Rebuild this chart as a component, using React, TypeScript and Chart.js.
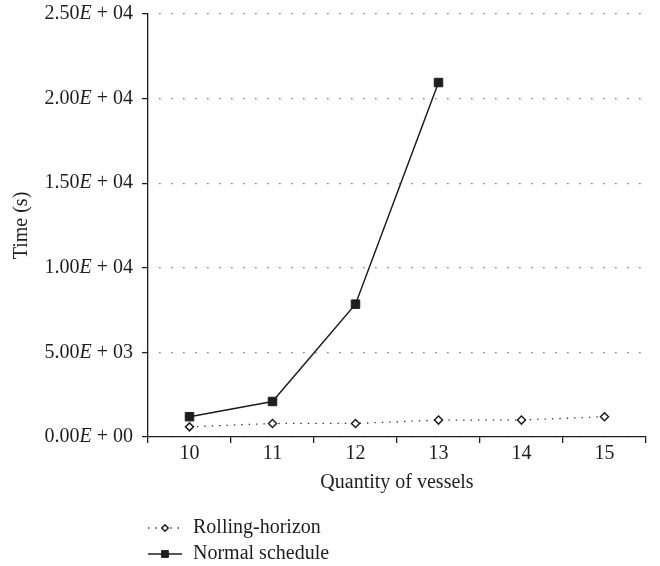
import React, { useEffect, useRef } from 'react';
import { Chart, registerables } from 'chart.js';

Chart.register(...registerables);

const categories = ['10', '11', '12', '13', '14', '15'];
const rollingHorizon = [600, 800, 800, 1000, 1000, 1200];
const normalSchedule = [1200, 2100, 7850, 20950, null, null];
const yTickValues = [0, 5000, 10000, 15000, 20000, 25000];
const seriesLabels = ['Rolling-horizon', 'Normal schedule'];
const xTitle = 'Quantity of vessels';
const yTitle = 'Time (s)';

const FONT = '"Liberation Serif", "DejaVu Serif", serif';
const INK = '#1e1e1e';
const FS = 20;

function sciParts(v: number) {
  const [m, e] = v.toExponential(2).split('e');
  const n = parseInt(e, 10);
  const exp = (n < 0 ? '- ' : '+ ') + String(Math.abs(n)).padStart(2, '0');
  return { mant: m, exp };
}

const sciTickPlugin = {
  id: 'sciTicks',
  afterDraw(chart: any) {
    const ys = chart.scales.y;
    const ctx = chart.ctx;
    const normal = `${FS}px ${FONT}`;
    const italic = `italic ${FS}px ${FONT}`;
    ctx.save();
    ctx.textBaseline = 'middle';
    ctx.textAlign = 'left';
    ctx.fillStyle = INK;
    ys.ticks.forEach((t: any) => {
      const y = ys.getPixelForValue(t.value);
      const { mant, exp } = sciParts(t.value);
      const tail = ' ' + exp;
      ctx.font = normal;
      const wm = ctx.measureText(mant).width;
      const wt = ctx.measureText(tail).width;
      ctx.font = italic;
      const we = ctx.measureText('E').width;
      const x = ys.right - 6 - 9 - (wm + we + wt);
      ctx.font = normal;
      ctx.fillText(mant, x, y);
      ctx.font = italic;
      ctx.fillText('E', x + wm, y);
      ctx.font = normal;
      ctx.fillText(tail, x + wm + we, y);
    });
    ctx.restore();
  },
};

function drawMarker(ctx: CanvasRenderingContext2D, ds: any, x: number, y: number, r: number) {
  ctx.save();
  ctx.setLineDash([]);
  ctx.lineWidth = ds.pointBorderWidth;
  ctx.strokeStyle = ds.pointBorderColor;
  ctx.fillStyle = ds.pointBackgroundColor;
  ctx.beginPath();
  if (ds.pointStyle === 'rectRot') {
    ctx.moveTo(x - r, y);
    ctx.lineTo(x, y - r);
    ctx.lineTo(x + r, y);
    ctx.lineTo(x, y + r);
    ctx.closePath();
  } else {
    const s = r * Math.SQRT1_2;
    ctx.rect(x - s, y - s, 2 * s, 2 * s);
  }
  ctx.fill();
  ctx.stroke();
  ctx.restore();
}

const lineLegendPlugin = {
  id: 'lineLegend',
  afterDraw(chart: any) {
    const ctx = chart.ctx as CanvasRenderingContext2D;
    const area = chart.chartArea;
    const x0 = area.left;
    const sampleW = 34;
    const rowH = 26;
    const y0 = area.bottom + 91;
    chart.data.datasets.forEach((ds: any, i: number) => {
      const y = y0 + i * rowH;
      ctx.save();
      ctx.strokeStyle = ds.borderColor;
      ctx.lineWidth = ds.borderWidth;
      ctx.setLineDash(ds.borderDash || []);
      ctx.beginPath();
      ctx.moveTo(x0, y);
      ctx.lineTo(x0 + sampleW, y);
      ctx.stroke();
      ctx.restore();
      drawMarker(ctx, ds, x0 + sampleW / 2, y, ds.pointRadius * 0.8);
      ctx.save();
      ctx.font = `${FS}px ${FONT}`;
      ctx.fillStyle = INK;
      ctx.textBaseline = 'middle';
      ctx.textAlign = 'left';
      ctx.fillText(ds.label, x0 + sampleW + 11, y);
      ctx.restore();
    });
  },
};

export default function App() {
  const ref = useRef<HTMLCanvasElement>(null);

  useEffect(() => {
    document.body.style.margin = '0';
    Chart.defaults.font.family = FONT;
    Chart.defaults.font.size = FS;
    Chart.defaults.color = INK;

    const chart = new Chart(ref.current as HTMLCanvasElement, {
      type: 'line',
      data: {
        labels: categories,
        datasets: [
          {
            label: seriesLabels[0],
            data: rollingHorizon,
            borderColor: '#333',
            borderWidth: 1.3,
            borderDash: [1.4, 6],
            pointStyle: 'rectRot',
            pointRadius: 4,
            pointBorderWidth: 1.5,
            pointBorderColor: INK,
            pointBackgroundColor: '#ffffff',
            fill: false,
            tension: 0,
          },
          {
            label: seriesLabels[1],
            data: normalSchedule,
            borderColor: INK,
            borderWidth: 1.5,
            pointStyle: 'rect',
            pointRadius: 6,
            pointBorderWidth: 1,
            pointBorderColor: INK,
            pointBackgroundColor: INK,
            fill: false,
            tension: 0,
            spanGaps: false,
          },
        ],
      },
      options: {
        responsive: false,
        animation: false,
        events: [],
        layout: { padding: { left: 0, right: 14, top: 14, bottom: 71 } },
        plugins: {
          legend: { display: false },
          tooltip: { enabled: false },
        },
        scales: {
          x: {
            type: 'category',
            offset: true,
            afterFit: (s: any) => {
              s.height = 58;
              s.paddingLeft = 0;
              s.paddingRight = 0;
            },
            grid: {
              display: true,
              offset: true,
              drawOnChartArea: false,
              drawTicks: true,
              tickLength: 6,
              color: INK,
              lineWidth: 1.3,
            },
            border: { display: true, color: INK, width: 1.3 },
            ticks: { padding: -1, color: INK, font: { size: FS, family: FONT } },
            title: {
              display: true,
              text: xTitle,
              color: INK,
              font: { size: FS, family: FONT },
              padding: { top: 0, bottom: 0 },
            },
          },
          y: {
            type: 'linear',
            min: 0,
            max: 25000,
            afterFit: (s: any) => {
              s.width = 148;
              s.paddingTop = 0;
              s.paddingBottom = 0;
            },
            afterBuildTicks: (s: any) => {
              s.ticks = yTickValues.map((v) => ({ value: v }));
            },
            grid: {
              display: true,
              drawOnChartArea: true,
              drawTicks: true,
              tickLength: 6,
              color: '#555',
              lineWidth: 1.2,
              tickColor: INK,
              tickWidth: 1.3,
              tickBorderDash: [],
            },
            border: { display: true, color: INK, width: 1.3, dash: [1.2, 10.8], dashOffset: -11 },
            ticks: {
              padding: 9,
              color: 'rgba(0,0,0,0)',
              font: { size: FS, family: FONT },
              callback: (v: any) => {
                const { mant, exp } = sciParts(Number(v));
                return `${mant}E ${exp}`;
              },
            },
            title: {
              display: true,
              text: yTitle,
              color: INK,
              font: { size: FS, family: FONT },
              padding: { top: 10, bottom: 0 },
            },
          },
        },
      },
      plugins: [sciTickPlugin, lineLegendPlugin],
    });

    return () => chart.destroy();
  }, []);

  return <canvas ref={ref} width={660} height={566} style={{ display: 'block' }} />;
}
